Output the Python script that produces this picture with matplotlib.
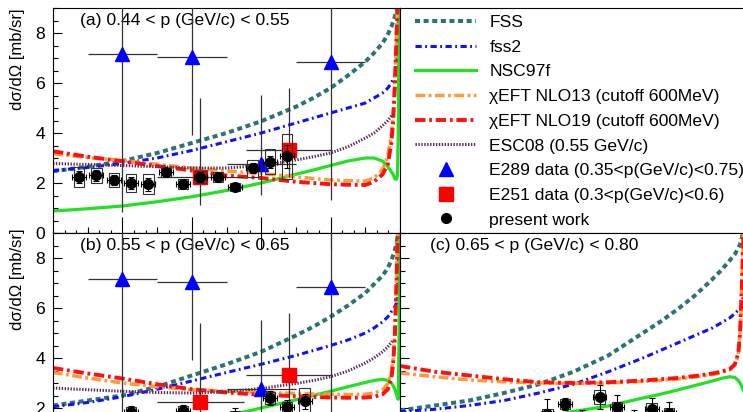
import numpy as np
import matplotlib.pyplot as plt
from matplotlib.lines import Line2D
from matplotlib.ticker import FixedLocator, MultipleLocator, NullLocator

plt.rcParams['font.family'] = ['Liberation Sans', 'DejaVu Sans']
plt.rcParams['lines.scale_dashes'] = False
plt.rcParams['axes.linewidth'] = 0.8

# cos(theta) grid of the model curves
x_curve = [-1.0, -0.8, -0.6, -0.4, -0.2, 0.0, 0.2, 0.4, 0.5, 0.6, 0.7, 0.8, 0.85,
           0.9, 0.93, 0.95, 0.96, 0.97, 0.98, 0.985, 0.99, 0.995, 1.0]
nan = np.nan

# panel (a) 0.44 < p < 0.55
fss_a = [2.47, 2.65, 2.88, 3.2, 3.6, 4.0, 4.47, 5.05, 5.4, 5.8, 6.3, 6.85, 7.2,
         7.6, 7.95, 8.25, 8.45, 8.65, 8.9, 9.1, 9.3, 9.6, 9.8]
fss2_a = [2.5, 2.62, 2.78, 3.0, 3.3, 3.65, 4.0, 4.4, 4.6, 4.8, 5.0, 5.2, 5.4,
          5.6, 5.8, 6.0, 6.15, 6.3, 6.6, 7.2, 8.5, 9.6, 10.0]
nsc_a = [0.88, 0.97, 1.08, 1.25, 1.45, 1.7, 2.0, 2.35, 2.52, 2.7, 2.88, 3.0, 3.0,
         2.88, 2.65, 2.45, 2.35, 2.17, 2.15, 2.3, 4.0, 9.5, 9.8]
nlo13_a = [3.17, 3.02, 2.9, 2.75, 2.6, 2.48, 2.38, 2.25, 2.18, 2.12, 2.09, 2.08, 2.2,
           2.55, 3.1, 3.9, 4.7, 6.0, 8.0, 9.2, 10.0, 10.5, 11.0]
nlo19_a = [3.27, 3.05, 2.87, 2.68, 2.5, 2.3, 2.2, 2.05, 2.0, 1.95, 1.93, 1.92, 2.05,
           2.35, 2.75, 3.6, 4.4, 5.8, 7.8, 9.0, 10.0, 10.5, 11.0]
esc_a = [2.78, 2.74, 2.7, 2.65, 2.6, 2.6, 2.7, 2.92, 3.05, 3.2, 3.45, 3.8, 4.0,
         4.3, 4.5, 4.68, 4.75, nan, nan, nan, nan, nan, nan]

# panel (b) 0.55 < p < 0.65
fss_b = [2.1, 2.3, 2.5, 2.85, 3.3, 3.75, 4.25, 4.9, 5.25, 5.65, 6.1, 6.6, 6.95,
         7.3, 7.6, 7.9, 8.1, 8.3, 8.6, 8.8, 9.1, 9.5, 10.0]
fss2_b = [2.05, 2.22, 2.45, 2.75, 3.08, 3.42, 3.75, 4.1, 4.3, 4.5, 4.72, 5.0, 5.2,
          5.45, 5.65, 5.85, 5.95, 6.05, 6.2, 6.5, 7.5, 9.5, 11.0]
nsc_b = [0.75, 0.85, 0.97, 1.15, 1.38, 1.68, 2.0, 2.33, 2.5, 2.67, 2.85, 3.02, 3.1,
         3.15, 3.1, 3.0, 2.9, 2.75, 2.55, 2.4, 2.35, 5.0, 10.0]
nlo13_b = [3.42, 3.2, 3.0, 2.85, 2.73, 2.67, 2.63, 2.58, 2.56, 2.55, 2.54, 2.55, 2.6,
           2.72, 2.98, 3.45, 3.95, 5.0, 7.3, 8.8, 10.0, 10.5, 11.0]
nlo19_b = [3.6, 3.38, 3.18, 2.95, 2.75, 2.62, 2.53, 2.47, 2.44, 2.42, 2.41, 2.42, 2.45,
           2.55, 2.75, 3.2, 3.7, 4.8, 7.0, 8.5, 10.0, 10.5, 11.0]
esc_b = [2.8, 2.73, 2.67, 2.62, 2.6, 2.65, 2.78, 2.98, 3.1, 3.25, 3.48, 3.8, 4.0,
         4.25, 4.45, 4.62, 4.72, nan, nan, nan, nan, nan, nan]

# panel (c) 0.65 < p < 0.80
fss_c = [1.9, 2.1, 2.3, 2.6, 2.95, 3.45, 4.1, 5.0, 5.45, 5.95, 6.5, 7.15, 7.5,
         7.9, 8.15, 8.4, 8.55, 8.8, 9.1, 9.3, 9.5, 9.8, 10.0]
fss2_c = [1.85, 1.95, 2.1, 2.3, 2.6, 2.95, 3.45, 4.0, 4.3, 4.6, 4.9, 5.2, 5.4,
          5.6, 5.78, 5.92, 6.0, 6.15, 6.5, 7.0, 8.0, 9.5, 11.0]
nsc_c = [0.95, 1.05, 1.18, 1.35, 1.6, 1.86, 2.08, 2.4, 2.55, 2.72, 2.9, 3.08, 3.18,
         3.25, 3.22, 3.1, 3.0, 2.85, 2.7, 2.6, 2.6, 5.0, 10.0]
nlo13_c = [3.4, 3.25, 3.12, 3.05, 3.0, 2.98, 3.0, 3.06, 3.1, 3.16, 3.24, 3.33, 3.42,
           3.52, 3.72, 4.15, 5.0, 6.8, 9.0, 10.0, 10.5, 11.0, 11.0]
nlo19_c = [3.68, 3.45, 3.3, 3.15, 3.03, 3.0, 3.03, 3.1, 3.15, 3.2, 3.28, 3.38, 3.45,
           3.55, 3.75, 4.2, 5.0, 6.8, 9.0, 10.0, 10.5, 11.0, 11.0]

# E289 data (0.35<p<0.75)
e289_x = [-0.6, -0.2, 0.2, 0.6]
e289_y = [7.15, 7.05, 2.78, 6.85]
e289_xerr = [0.2, 0.2, 0.2, 0.2]
e289_lo = [6.3, 3.12, 1.26, 5.52]
e289_hi = [6.3, 3.12, 2.74, 5.5]

# E251 data (0.3<p<0.6)
e251_x = [-0.15, 0.36]
e251_y = [2.25, 3.33]
e251_xerr = [0.25, 0.25]
e251_lo = [1.13, 1.1]
e251_hi = [3.15, 2.47]

# present work
pw_a_x = [-0.85, -0.75, -0.65, -0.55, -0.45, -0.35, -0.25, -0.15, -0.05, 0.05, 0.15, 0.25, 0.35]
pw_a_y = [2.25, 2.32, 2.12, 2.01, 1.95, 2.43, 1.95, 2.24, 2.25, 1.85, 2.59, 2.85, 3.07]
pw_a_stat = [0.25, 0.22, 0.2, 0.25, 0.25, 0.15, 0.15, 0.2, 0.15, 0.12, 0.2, 0.25, 0.45]
pw_a_sys = [0.4, 0.3, 0.28, 0.37, 0.4, 0.17, 0.2, 0.25, 0.2, 0.16, 0.33, 0.5, 0.9]

pw_b_x = [-0.55, -0.25, 0.05, 0.25, 0.35, 0.45]
pw_b_y = [1.85, 1.87, 1.7, 2.4, 2.05, 2.28]
pw_b_stat = [0.23, 0.25, 0.3, 0.28, 0.27, 0.3]
pw_b_sys = [0.2, 0.2, 0.2, 0.25, 0.2, 0.52]

pw_c_x = [-0.15, -0.05, 0.05, 0.15, 0.25, 0.35, 0.45, 0.55]
pw_c_y = [1.75, 2.15, 1.6, 2.45, 2.05, 1.5, 1.95, 1.82]
pw_c_stat = [0.62, 0.24, 0.32, 0.47, 0.47, 0.42, 0.44, 0.43]
pw_c_sys = [0.2, 0.2, 0.2, 0.27, 0.2, 0.2, 0.26, 0.2]

labels = ['FSS', 'fss2', 'NSC97f', 'χEFT NLO13 (cutoff 600MeV)',
          'χEFT NLO19 (cutoff 600MeV)', 'ESC08 (0.55 GeV/c)',
          'E289 data (0.35<p(GeV/c)<0.75)', 'E251 data (0.3<p(GeV/c)<0.6)',
          'present work']

styles = {
    'fss': dict(color='#2e7373', lw=2.9, ls=(0, (3.6, 2.6))),
    'fss2': dict(color='#1010ff', lw=2.2, ls=(0, (4.5, 2.5, 1.3, 2.5))),
    'nsc': dict(color='#22e022', lw=2.3, ls='-'),
    'nlo13': dict(color='#ff9a3c', lw=2.5, ls=(0, (7, 2.5, 2, 2.5))),
    'nlo19': dict(color='#ff1010', lw=2.8, ls=(0, (7.5, 2.7, 2, 2.7))),
    'esc': dict(color='#5c2d5c', lw=2.2, ls=(0, (1, 1.1))),
}

W, H = 743, 412
fig = plt.figure(figsize=(W / 100, H / 100), dpi=100)


def box(left, top, right, bottom):
    return [left / W, 1 - bottom / H, (right - left) / W, (bottom - top) / H]


ax_a = fig.add_axes(box(53, 8, 400, 233))
ax_l = fig.add_axes(box(400, 8, 747, 233))
ax_b = fig.add_axes(box(53, 233, 400, 458))
ax_c = fig.add_axes(box(400, 233, 747, 458))


def draw_curves(ax, curves):
    for key, vals in curves:
        ax.plot(x_curve, vals, solid_capstyle='butt', dash_capstyle='butt', **styles[key])


def draw_old_data(ax):
    ax.errorbar(e289_x, e289_y, xerr=e289_xerr, yerr=[e289_lo, e289_hi], fmt='^',
                color='#0000ff', ms=10, ecolor='#333333', elinewidth=0.9, capsize=0, zorder=4)
    ax.errorbar(e251_x, e251_y, xerr=e251_xerr, yerr=[e251_lo, e251_hi], fmt='s',
                color='#ff0000', ms=9.5, ecolor='#333333', elinewidth=0.9, capsize=0, zorder=4)


def draw_present(ax, x, y, stat, sys):
    y = np.array(y)
    sys = np.array(sys)
    ax.bar(x, 2 * sys, bottom=y - sys, width=0.06, fill=False, edgecolor='#333333',
           linewidth=0.8, zorder=5)
    ax.errorbar(x, y, xerr=0.04, yerr=stat, fmt='o', color='black', ms=7,
                ecolor='black', elinewidth=0.8, capsize=2, capthick=0.8, zorder=6)


def style_axes(ax, show_ylabels=True, top_ticks=False):
    ax.set_xlim(-1, 1)
    ax.set_ylim(0, 9)
    ax.xaxis.set_major_locator(FixedLocator([-0.6, -0.2, 0.2, 0.6]))
    ax.xaxis.set_minor_locator(FixedLocator(np.linspace(-1, 1, 31)))
    ax.yaxis.set_major_locator(MultipleLocator(2))
    ax.yaxis.set_minor_locator(MultipleLocator(0.5))
    ax.tick_params(axis='x', which='major', direction='in', length=11.5, width=0.8,
                   labelbottom=False, top=top_ticks)
    ax.tick_params(axis='x', which='minor', direction='in', length=2.2, width=0.8)
    ax.tick_params(axis='y', which='major', direction='in', length=6.5, width=0.8,
                   labelsize=12.6, pad=5.5, labelleft=show_ylabels)
    ax.tick_params(axis='y', which='minor', direction='in', length=3.3, width=0.8)
    med = ax.secondary_xaxis('bottom')
    med.set_xticks([-0.8, -0.4, 0.0, 0.4, 0.8])
    med.xaxis.set_minor_locator(NullLocator())
    med.tick_params(axis='x', direction='in', length=4.3, width=0.8, labelbottom=False)


draw_curves(ax_a, [('fss', fss_a), ('fss2', fss2_a), ('nsc', nsc_a),
                   ('nlo13', nlo13_a), ('nlo19', nlo19_a), ('esc', esc_a)])
draw_old_data(ax_a)
draw_present(ax_a, pw_a_x, pw_a_y, pw_a_stat, pw_a_sys)

draw_curves(ax_b, [('fss', fss_b), ('fss2', fss2_b), ('nsc', nsc_b),
                   ('nlo13', nlo13_b), ('nlo19', nlo19_b), ('esc', esc_b)])
draw_old_data(ax_b)
draw_present(ax_b, pw_b_x, pw_b_y, pw_b_stat, pw_b_sys)

draw_curves(ax_c, [('fss', fss_c), ('fss2', fss2_c), ('nsc', nsc_c),
                   ('nlo13', nlo13_c), ('nlo19', nlo19_c)])
draw_present(ax_c, pw_c_x, pw_c_y, pw_c_stat, pw_c_sys)

style_axes(ax_a)
style_axes(ax_b, top_ticks=True)
style_axes(ax_c, show_ylabels=False)

ylab = 'dσ/dΩ [mb/sr]'
ax_a.set_ylabel(ylab, loc='top', fontsize=12)
ax_a.yaxis.set_label_coords((25 - 53) / 347, 1.0)
ax_b.set_ylabel(ylab, loc='top', fontsize=12)
ax_b.yaxis.set_label_coords((25 - 53) / 347, (458 - 229) / 225)

ax_a.text(0.078, 0.944, '(a) 0.44 < p (GeV/c) < 0.55', transform=ax_a.transAxes,
          fontsize=12.6, va='center', ha='left')
ax_b.text(0.078, 0.944, '(b) 0.55 < p (GeV/c) < 0.65', transform=ax_b.transAxes,
          fontsize=12.6, va='center', ha='left')
ax_c.text(0.0865, 0.944, '(c) 0.65 < p (GeV/c) < 0.80', transform=ax_c.transAxes,
          fontsize=12.6, va='center', ha='left')

# legend panel
ax_l.set_xticks([])
ax_l.set_yticks([])
handles = [Line2D([], [], **styles[k]) for k in ['fss', 'fss2', 'nsc', 'nlo13', 'nlo19', 'esc']]
handles += [Line2D([], [], marker='^', color='#0000ff', ls='none', ms=10),
            Line2D([], [], marker='s', color='#ff0000', ls='none', ms=9.5),
            Line2D([], [], marker='o', color='black', ls='none', ms=7)]
ax_l.legend(handles, labels, loc='upper left', bbox_to_anchor=(0.043, 0.97),
            frameon=False, fontsize=12.6, handlelength=3.5, handletextpad=0.75,
            labelspacing=0.54, borderpad=0, borderaxespad=0)

fig.savefig('out.png', dpi=100)
